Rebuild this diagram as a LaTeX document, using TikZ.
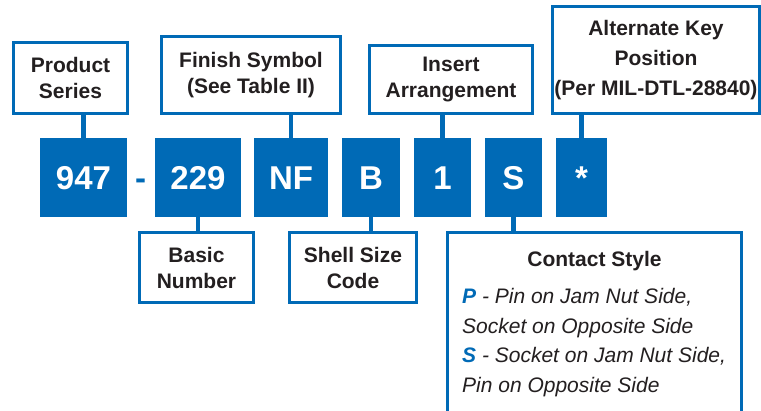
\documentclass[tikz,border=0pt]{standalone}
\usepackage{fontspec}
\setmainfont{Liberation Sans}
\usetikzlibrary{positioning}
\definecolor{pnblue}{HTML}{006AB6}
\definecolor{inkgray}{HTML}{231F20}

\begin{document}
\begin{tikzpicture}[
  x=1pt, y=-1pt,
  link/.style={line width=4.5pt, pnblue},
]

% =============================================
% Box styles
% =============================================
\tikzset{
  codebox/.style={
    fill=pnblue, text=white, inner sep=0pt,
    font=\fontsize{33}{33}\selectfont\bfseries,
    minimum height=79pt, text height=24pt, text depth=0pt,
    minimum width=#1,
  },
  labelbox/.style 2 args={
    draw=pnblue, line width=3.2pt, fill=white, text=inkgray,
    font=\fontsize{21}{26}\selectfont\bfseries,
    align=center, inner sep=2pt,
    minimum width=#1, minimum height=#2,
  },
}

% =============================================
% Frame
% =============================================
\useasboundingbox (0,0) rectangle (761,411);
\clip (0,0) rectangle (761,411);

% =============================================
% Part number: 947-229 NF B 1 S *
% =============================================
\node[codebox={87pt}] (c947) at (83.5,177.5) {947};
\node[font=\fontsize{33}{33}\selectfont\bfseries, text=pnblue, inner sep=0pt,
  anchor=base] (dash) at (140.5,190) {-};
\node[codebox={86pt}] (c229) at (198,177.5) {229};
\node[codebox={74pt}] (cnf) at (291,177.5) {NF};
\node[codebox={58pt}] (cb) at (371,177.5) {B};
\node[codebox={57pt}] (c1) at (442.5,177.5) {1};
\node[codebox={57pt}] (cs) at (513.5,177.5) {S};
\node[codebox={51pt}] (cstar) at (581.5,177.5) {*};

% =============================================
% Labels above
% =============================================
\node[labelbox={114pt}{71pt}] (series) at (70.5,78) {Product\\Series};
\node[labelbox={179pt}{77pt}] (finish) at (251,75)
  {Finish Symbol\\(See Table II)};
\node[labelbox={163pt}{68pt}] (insert) at (451,79.5) {Insert\\Arrangement};
\node[labelbox={203pt}{107pt}, font=\fontsize{21}{30}\selectfont\bfseries]
  (altkey) at (656,60)
  {Alternate Key\\Position\\(Per MIL-DTL-28840)};

% =============================================
% Labels below
% =============================================
\node[labelbox={114pt}{70pt}] (basic) at (196.5,267.5) {Basic\\Number};
\node[labelbox={127pt}{70pt}] (shell) at (353,267.5) {Shell Size\\Code};
\node[labelbox={294pt}{200pt}, anchor=north] (contact) at (594.5,231) {};
\node[font=\fontsize{21}{26}\selectfont\bfseries, text=inkgray, anchor=base]
  (contacttitle) at (594.5,267) {Contact Style};
\node[font=\fontsize{21}{29.5}\selectfont\itshape, text=inkgray, align=left,
  inner sep=0pt, anchor=base west] (contactlist) at (462,392.5)
  {\textcolor{pnblue}{\bfseries P} - Pin on Jam Nut Side,\\
   Socket on Opposite Side\\
   \textcolor{pnblue}{\bfseries S} - Socket on Jam Nut Side,\\
   Pin on Opposite Side};

% =============================================
% Connectors
% =============================================
\draw[link] (c947.north) -- (c947.north |- series.south);
\draw[link] (cnf.north) -- (cnf.north |- finish.south);
\draw[link] (c1.north) -- (c1.north |- insert.south);
\draw[link] (cstar.north) -- (cstar.north |- altkey.south);
\draw[link] (c229.south) -- (c229.south |- basic.north);
\draw[link] (cb.south) -- (cb.south |- shell.north);
\draw[link] (cs.south) -- (cs.south |- contact.north);

\end{tikzpicture}
\end{document}
